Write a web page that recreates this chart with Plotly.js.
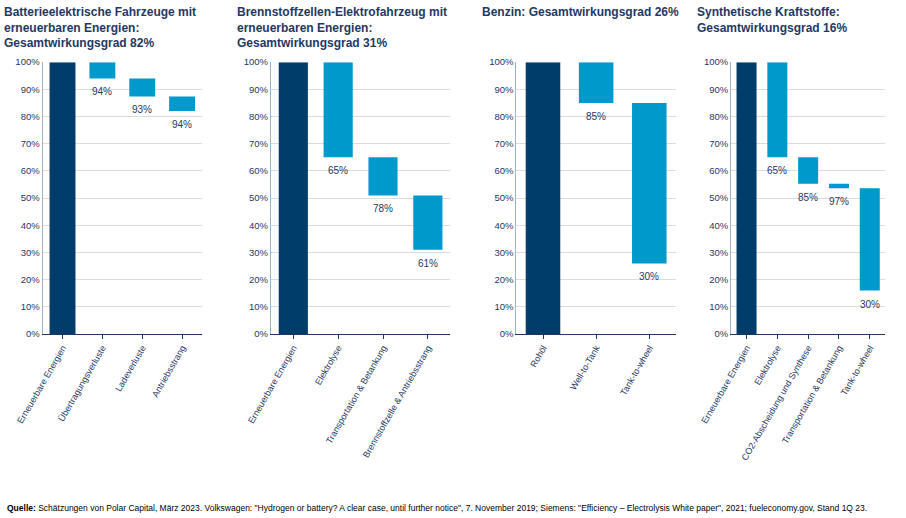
<!DOCTYPE html>
<html><head><meta charset="utf-8">
<script src="https://cdn.plot.ly/plotly-3.0.1.min.js"></script>
<style>body{margin:0;background:#fff}#chart{width:906px;height:518px}</style>
</head><body><div id="chart"></div>
<script>
// four waterfall panels: categories, top and bottom of each step, label under the step
const titles = [
  'Batterieelektrische Fahrzeuge mit<br>erneuerbaren Energien:<br>Gesamtwirkungsgrad 82%',
  'Brennstoffzellen-Elektrofahrzeug mit<br>erneuerbaren Energien:<br>Gesamtwirkungsgrad 31%',
  'Benzin: Gesamtwirkungsgrad 26%',
  'Synthetische Kraftstoffe:<br>Gesamtwirkungsgrad 16%'
];
const cats1 = ['Erneuerbare Energien', 'Übertragungsverluste', 'Ladeverluste', 'Antriebsstrang'];
const top1 = [100, 100, 94, 87.4];
const bot1 = [0, 94, 87.4, 82];
const lab1 = ['', '94%', '93%', '94%'];

const cats2 = ['Erneuerbare Energien', 'Elektrolyse', 'Transportation & Betankung', 'Brennstoffzelle & Antriebsstrang'];
const top2 = [100, 100, 65, 51];
const bot2 = [0, 65, 51, 31];
const lab2 = ['', '65%', '78%', '61%'];

const cats3 = ['Rohöl', 'Well-to-Tank', 'Tank-to-wheel'];
const top3 = [100, 100, 85];
const bot3 = [0, 85, 26];
const lab3 = ['', '85%', '30%'];

const cats4 = ['Erneuerbare Energien', 'Elektrolyse', 'CO2-Abscheidung und Synthese', 'Transportation & Betankung', 'Tank-to-wheel'];
const top4 = [100, 100, 65, 55.3, 53.6];
const bot4 = [0, 65, 55.3, 53.6, 16];
const lab4 = ['', '65%', '85%', '97%', '30%'];

const panels = [[cats1, top1, bot1, lab1], [cats2, top2, bot2, lab2], [cats3, top3, bot3, lab3], [cats4, top4, bot4, lab4]];
const xdom = [[0.047, 0.223], [0.299, 0.497], [0.570, 0.746], [0.807, 0.977]];
const ydom = [0.355, 0.880];
const navy = '#003d6b', light = '#0099cc', txt = '#1f3864';

const traces = [], annos = [];
const layout = {
  width: 906, height: 518, margin: {l: 0, r: 0, t: 0, b: 0},
  paper_bgcolor: '#fff', plot_bgcolor: '#fff', showlegend: false,
  font: {family: 'Arial, Liberation Sans, sans-serif', color: txt, size: 10}
};

panels.forEach(([cats, tops, bots, labs], i) => {
  const n = i + 1, xa = 'x' + (n > 1 ? n : ''), ya = 'y' + (n > 1 ? n : '');
  traces.push({
    type: 'bar', x: cats, y: tops.map((t, j) => t - bots[j]), base: bots,
    xaxis: xa, yaxis: ya, width: 0.65, hoverinfo: 'skip',
    marker: {color: cats.map((c, j) => j === 0 ? navy : light)}
  });
  layout['xaxis' + (n > 1 ? n : '')] = {
    domain: xdom[i], anchor: ya, tickangle: -60, tickfont: {size: 9, color: txt},
    showline: true, linecolor: '#1f3864', ticks: 'outside', ticklen: 4, tickcolor: '#1f3864',
    showgrid: false
  };
  layout['yaxis' + (n > 1 ? n : '')] = {
    domain: ydom, anchor: xa, range: [0, 100], dtick: 10, ticksuffix: '%',
    tickfont: {size: 9.5, color: txt}, gridcolor: '#dcdcdc', showline: true,
    linecolor: '#9fb3c8', zeroline: false
  };
  cats.forEach((c, j) => {
    if (labs[j]) annos.push({xref: xa, yref: ya, x: c, y: bots[j], text: labs[j], showarrow: false,
      yanchor: 'top', yshift: -6, font: {size: 10, color: txt}});
  });
  annos.push({xref: 'paper', yref: 'paper', x: xdom[i][0] - (i === 0 ? 0.045 : 0.04), y: 0.995,
    xanchor: 'left', yanchor: 'top', align: 'left', text: '<b>' + titles[i] + '</b>', showarrow: false,
    font: {size: 12, color: txt}});
});
annos.push({xref: 'paper', yref: 'paper', x: 0.005, y: 0.005, xanchor: 'left', yanchor: 'bottom', showarrow: false,
  text: '<b>Quelle:</b> Schätzungen von Polar Capital, März 2023. Volkswagen: "Hydrogen or battery? A clear case, until further notice", 7. November 2019; Siemens: "Efficiency – Electrolysis White paper", 2021; fueleconomy.gov, Stand 1Q 23.',
  font: {size: 8.5, color: '#000'}});
layout.annotations = annos;

Plotly.newPlot('chart', traces, layout, {displayModeBar: false, staticPlot: true});
</script></body></html>
